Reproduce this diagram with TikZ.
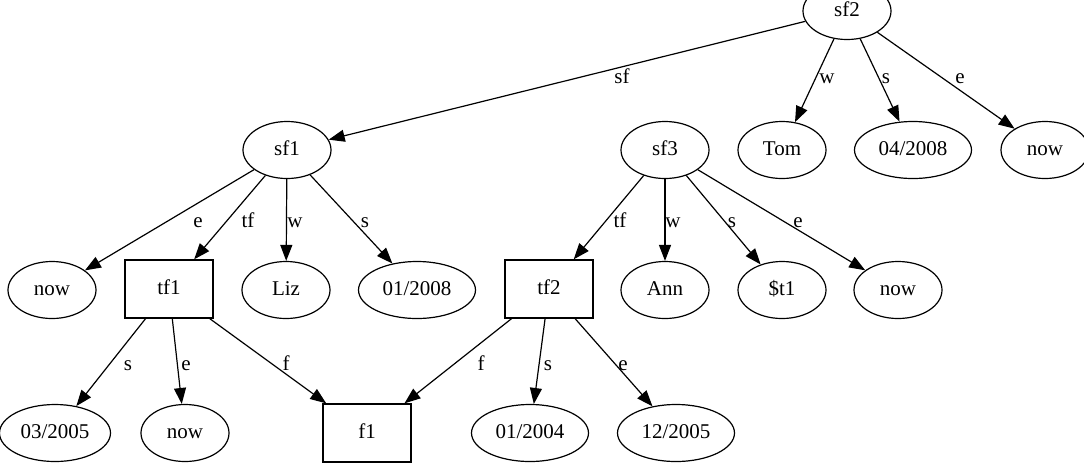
\documentclass[tikz,border=0pt]{standalone}
\usepackage{fontspec}
\setmainfont{Liberation Serif}
\usetikzlibrary{arrows.meta,shapes.geometric}
\begin{document}
\begin{tikzpicture}[x=1pt,y=-1pt,
  every node/.style={font=\fontsize{21}{25}\selectfont,text height=14pt,text depth=4pt},
  el/.style={draw,ellipse,line width=1.2pt,inner sep=0pt,minimum width=88pt,minimum height=57pt},
  dt/.style={el,minimum width=117pt},
  bx/.style={draw,rectangle,line width=1.3pt,inner sep=0pt,minimum width=88pt,minimum height=58pt},
  ed/.style={line width=1.2pt,-{Triangle[length=16pt,width=12pt]}},
  lab/.style={inner sep=0pt}]
\useasboundingbox (0,0) rectangle (1084,467);
\fill[white] (0,0) rectangle (1084,467);
% row 1
\node[el] (sf2) at (847,11) {sf2};
% row 2
\node[el] (sf1) at (287,150) {sf1};
\node[el] (sf3) at (665,150) {sf3};
\node[el] (tom) at (782,150) {Tom};
\node[dt] (d0408) at (913,150) {04/2008};
\node[el] (now1) at (1045,150) {now};
% row 3
\node[el] (nowa) at (52,290) {now};
\node[bx] (tf1) at (169,289) {tf1};
\node[el] (liz) at (286,290) {Liz};
\node[dt] (d0108) at (417,290) {01/2008};
\node[bx] (tf2) at (549,289) {tf2};
\node[el] (ann) at (665,290) {Ann};
\node[el] (t1) at (782,290) {\$t1};
\node[el] (nowb) at (898,290) {now};
% row 4
\node[dt,minimum width=111pt] (d0305) at (55,433) {03/2005};
\node[el] (nowc) at (185,433) {now};
\node[bx] (f1) at (367,433) {f1};
\node[dt] (d0104) at (530,433) {01/2004};
\node[dt] (d1205) at (676,433) {12/2005};
% edges
\draw[ed] (sf2) -- (sf1) node[lab] at (622,78) {sf};
\draw[ed] (sf2) -- (tom) node[lab] at (827,78) {w};
\draw[ed] (sf2) -- (d0408) node[lab] at (886,78) {s};
\draw[ed] (sf2) -- (now1) node[lab] at (960,78) {e};
\draw[ed] (sf1) -- (nowa) node[lab] at (198,222) {e};
\draw[ed] (sf1) -- (tf1) node[lab] at (248,222) {tf};
\draw[ed] (sf1) -- (liz) node[lab] at (295,222) {w};
\draw[ed] (sf1) -- (d0108) node[lab] at (365,222) {s};
\draw[ed] (sf3) -- (tf2) node[lab] at (620,222) {tf};
\draw[ed] (sf3) -- (ann) node[lab] at (673,222) {w};
\draw[ed] (sf3) -- (t1) node[lab] at (732,222) {s};
\draw[ed] (sf3) -- (nowb) node[lab] at (798,222) {e};
\draw[ed] (tf1) -- (d0305) node[lab] at (128,365) {s};
\draw[ed] (tf1) -- (nowc) node[lab] at (186,365) {e};
\draw[ed] (tf1) -- (f1) node[lab] at (286,365) {f};
\draw[ed] (tf2) -- (f1) node[lab] at (481,365) {f};
\draw[ed] (tf2) -- (d0104) node[lab] at (548,365) {s};
\draw[ed] (tf2) -- (d1205) node[lab] at (623,365) {e};
\end{tikzpicture}
\end{document}
